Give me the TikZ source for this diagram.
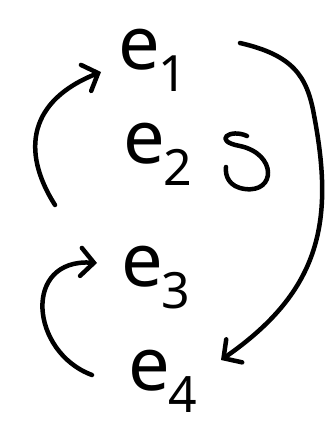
\documentclass[tikz,border=0pt]{standalone}
\usepackage{fontspec}
\setmainfont{Noto Sans}
\usetikzlibrary{arrows.meta}
\newcommand{\elab}[1]{\fontsize{74}{74}\selectfont e\kern-2pt\raisebox{-22pt}{\fontsize{50}{50}\selectfont #1}}
\tikzset{
  lab/.style={inner sep=0pt, anchor=center},
  hand/.style={line width=4.5pt, line cap=round, line join=round},
  arr/.style={hand, -{Straight Barb[length=13pt, width=28pt, line width=4.5pt, line cap=round]}}
}
\begin{document}
\begin{tikzpicture}[x=1pt, y=-1pt]
\useasboundingbox (0,0) rectangle (334,428);
\node[lab] (e1) at (153,60) {\elab{1}};
\node[lab] (e2) at (158,154) {\elab{2}};
\node[lab] (e3) at (156,278) {\elab{3}};
\node[lab] (e4) at (163,381) {\elab{4}};
\coordinate (s31) at (55,205);
\coordinate (t31) at (101,72);
\coordinate (s43) at (92,375);
\coordinate (t43) at (97,263);
\coordinate (s14) at (240,43);
\coordinate (m14) at (314,115);
\coordinate (t14) at (221,360);
\draw[arr] (s31) .. controls (20,150) and (30,100) .. (t31);
\draw[arr] (s43) .. controls (30,352) and (22,258) .. (t43);
\draw[arr] (s14) .. controls (292,55) and (307,75) .. (m14) .. controls (334,220) and (322,290) .. (t14);
\draw[hand] (247,136) .. controls (230,128) and (212,141) .. (240,146) .. controls (277,154) and (276,193) .. (245,189) .. controls (229,187) and (225,176) .. (226,167);
\end{tikzpicture}
\end{document}
